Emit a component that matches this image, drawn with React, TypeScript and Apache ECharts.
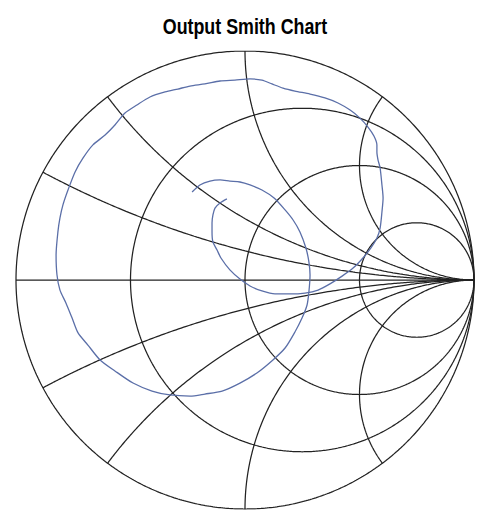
import React, { useEffect, useRef } from "react";
import * as echarts from "echarts";

const TITLE = "Output Smith Chart";
// Smith chart grid values
const resistanceValues = [0, 1 / 3, 1, 3];
const reactanceValues = [0.25, 0.5, 1, 2, -0.25, -0.5, -1, -2];

// Measured reflection coefficient trace (real / imaginary parts of Gamma)
const traceRe = [
  -0.079, -0.109, -0.131, -0.14, -0.144, -0.144, -0.14, -0.122, -0.105, -0.066,
  -0.022, 0.022, 0.074, 0.131, 0.197, 0.262, 0.319, 0.371, 0.424, 0.472,
  0.515, 0.55, 0.576, 0.59, 0.598, 0.603, 0.598, 0.59, 0.581, 0.576,
  0.576, 0.563, 0.537, 0.502, 0.459, 0.406, 0.349, 0.284, 0.218, 0.166,
  0.118, 0.074, 0.022, -0.044, -0.109, -0.175, -0.24, -0.293, -0.349, -0.415,
  -0.472, -0.524, -0.568, -0.611, -0.664, -0.707, -0.742, -0.773, -0.795, -0.808,
  -0.817, -0.825, -0.821, -0.808, -0.782, -0.755, -0.729, -0.686, -0.633, -0.568,
  -0.489, -0.406, -0.328, -0.24, -0.175, -0.1, -0.022, 0.052, 0.122, 0.175,
  0.218, 0.249, 0.271, 0.279, 0.284, 0.279, 0.266, 0.24, 0.21, 0.175,
  0.127, 0.074, 0.022, -0.022, -0.066, -0.109, -0.153, -0.197, -0.231,
];
const traceIm = [
  0.354, 0.336, 0.314, 0.284, 0.249, 0.21, 0.166, 0.131, 0.096, 0.044,
  0.004, -0.026, -0.048, -0.061, -0.061, -0.057, -0.044, -0.017, 0.017, 0.052,
  0.096, 0.14, 0.183, 0.227, 0.297, 0.358, 0.415, 0.489, 0.524, 0.559,
  0.59, 0.629, 0.668, 0.707, 0.742, 0.773, 0.795, 0.812, 0.825, 0.838,
  0.856, 0.873, 0.878, 0.873, 0.869, 0.856, 0.847, 0.834, 0.821, 0.799,
  0.764, 0.729, 0.677, 0.633, 0.59, 0.533, 0.472, 0.393, 0.328, 0.271,
  0.21, 0.109, 0.022, -0.044, -0.1, -0.166, -0.231, -0.284, -0.349, -0.397,
  -0.45, -0.485, -0.502, -0.507, -0.498, -0.485, -0.45, -0.406, -0.349, -0.297,
  -0.227, -0.166, -0.109, -0.052, 0.022, 0.079, 0.14, 0.21, 0.262, 0.306,
  0.358, 0.393, 0.415, 0.428, 0.432, 0.437, 0.432, 0.415, 0.384,
];

const GRID_COLOR = "#222222";
const TRACE_COLOR = "#5b6fa8";

function resistanceCircle(r: number): number[][] {
  const cx = r / (1 + r);
  const rad = 1 / (1 + r);
  const pts: number[][] = [];
  const n = 720;
  for (let i = 0; i <= n; i++) {
    const a = (i / n) * Math.PI * 2;
    pts.push([cx + rad * Math.cos(a), rad * Math.sin(a)]);
  }
  return pts;
}

function gammaOf(r: number, x: number): number[] {
  const den = (r + 1) * (r + 1) + x * x;
  return [(r * r - 1 + x * x) / den, (2 * x) / den];
}

function reactanceArc(x: number): number[][] {
  const pts: number[][] = [gammaOf(0, x)];
  const n = 600;
  for (let i = 0; i <= n; i++) {
    const r = Math.pow(10, -3 + (7 * i) / n);
    pts.push(gammaOf(r, x));
  }
  pts.push([1, 0]);
  return pts;
}

export default function App() {
  const ref = useRef<HTMLDivElement>(null);
  useEffect(() => {
    if (!ref.current) return;
    const chart = echarts.init(ref.current, undefined, { renderer: "svg" });
    const gridLine = (data: number[][]) => ({
      type: "line",
      data,
      showSymbol: false,
      symbol: "none",
      silent: true,
      lineStyle: { color: GRID_COLOR, width: 1.25 },
      z: 1,
    });
    const series: any[] = [];
    resistanceValues.forEach((r) => series.push(gridLine(resistanceCircle(r))));
    series.push(gridLine([[-1, 0], [1, 0]]));
    reactanceValues.forEach((x) => series.push(gridLine(reactanceArc(x))));
    series.push({
      type: "line",
      name: "S22",
      data: traceRe.map((v, i) => [v, traceIm[i]]),
      showSymbol: false,
      symbol: "none",
      silent: true,
      smooth: 0.25,
      lineStyle: { color: TRACE_COLOR, width: 1.3 },
      z: 3,
    });
    chart.setOption({
      animation: false,
      backgroundColor: "#ffffff",
      grid: { left: 16, top: 51, width: 458, height: 458 },
      xAxis: { type: "value", min: -1, max: 1, show: false },
      yAxis: { type: "value", min: -1, max: 1, show: false },
      graphic: [
        {
          type: "text",
          x: 245,
          y: 26,
          scaleX: 0.83,
          style: {
            text: TITLE,
            align: "center",
            verticalAlign: "middle",
            fontSize: 21.5,
            fontWeight: "bold",
            fontFamily: "'Liberation Sans', Arial, sans-serif",
            fill: "#000000",
          },
        },
      ],
      series,
    });
    return () => chart.dispose();
  }, []);
  return (
    <div
      ref={ref}
      style={{ position: "fixed", left: 0, top: 0, width: 479, height: 516 }}
    />
  );
}
